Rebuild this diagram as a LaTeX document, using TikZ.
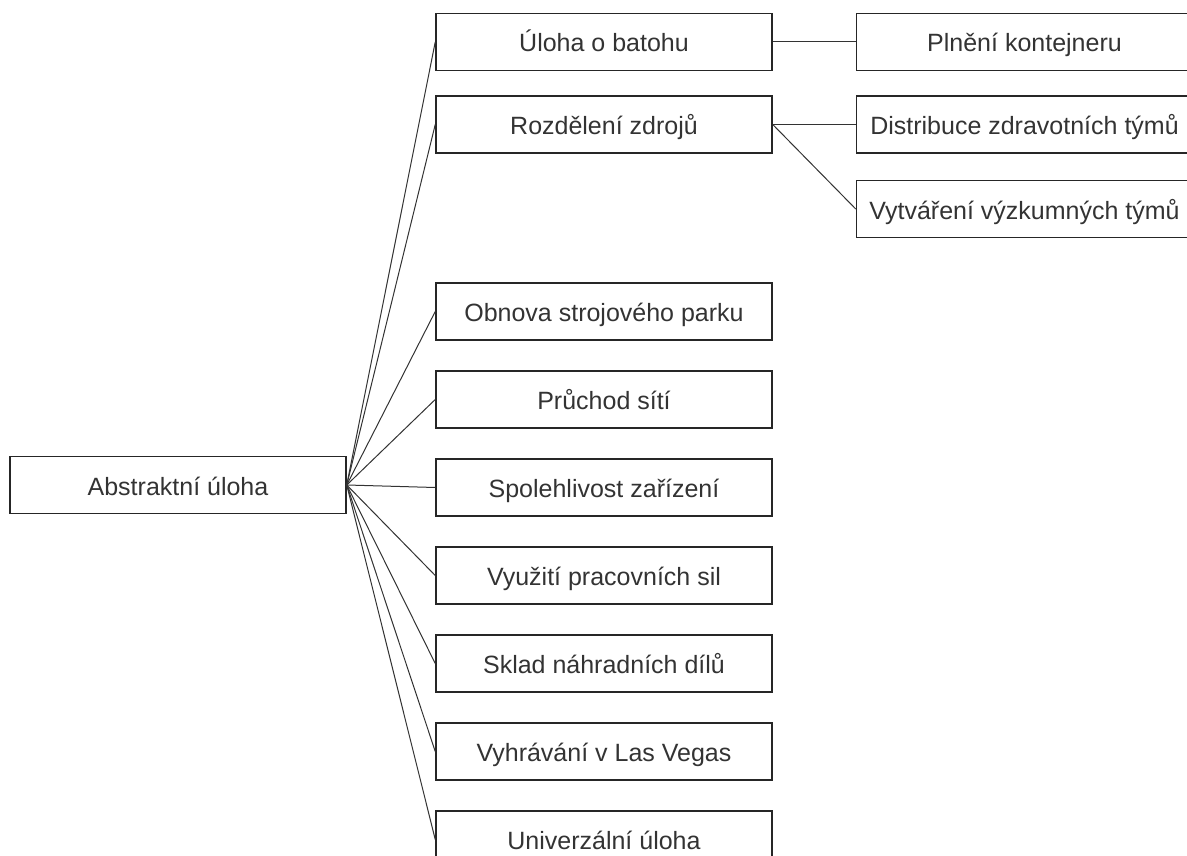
\documentclass[tikz,border=0pt]{standalone}
\usepackage{fontspec}
\setmainfont{Liberation Sans}
\usetikzlibrary{positioning}

\begin{document}
\begin{tikzpicture}[
    x=1pt, y=1pt,
    node distance=29.5pt and 83pt,
    task/.style={rectangle, draw=black!85, line width=1.5pt, minimum width=336pt, minimum height=57pt, inner sep=0pt, text height=24pt, text depth=4pt, text=black!80, font=\fontsize{25}{30}\selectfont},
    link/.style={draw=black!80, line width=1pt}
]
\useasboundingbox (0,0) rectangle (1187,-856);

% Root
\node[task] (root) at (178,-485) {Abstraktní úloha};

% Middle column
\node[task] (batoh) at (604,-42) {Úloha o batohu};
\node[task, below=24pt of batoh] (zdroje) {Rozdělení zdrojů};
\node[task] (obnova) at (604,-311.5) {Obnova strojového parku};
\node[task, below=of obnova] (sit) {Průchod sítí};
\node[task, below=of sit] (spol) {Spolehlivost zařízení};
\node[task, below=of spol] (sily) {Využití pracovních sil};
\node[task, below=of sily] (sklad) {Sklad náhradních dílů};
\node[task, below=of sklad] (vegas) {Vyhrávání v Las Vegas};
\node[task, below=of vegas] (univ) {Univerzální úloha};

% Right column
\node[task, right=of batoh] (kont) {Plnění kontejneru};
\node[task, right=of zdroje] (zdrav) {Distribuce zdravotních týmů};
\node[task, below=26pt of zdrav] (vyzk) {Vytváření výzkumných týmů};

% Links from root
\foreach \n in {batoh,zdroje,obnova,sit,spol,sily,sklad,vegas,univ}
    \draw[link] (root.east) -- (\n.west);

% Links to right column
\draw[link] (batoh.east) -- (kont.west);
\draw[link] (zdroje.east) -- (zdrav.west);
\draw[link] (zdroje.east) -- (vyzk.west);

\end{tikzpicture}
\end{document}
